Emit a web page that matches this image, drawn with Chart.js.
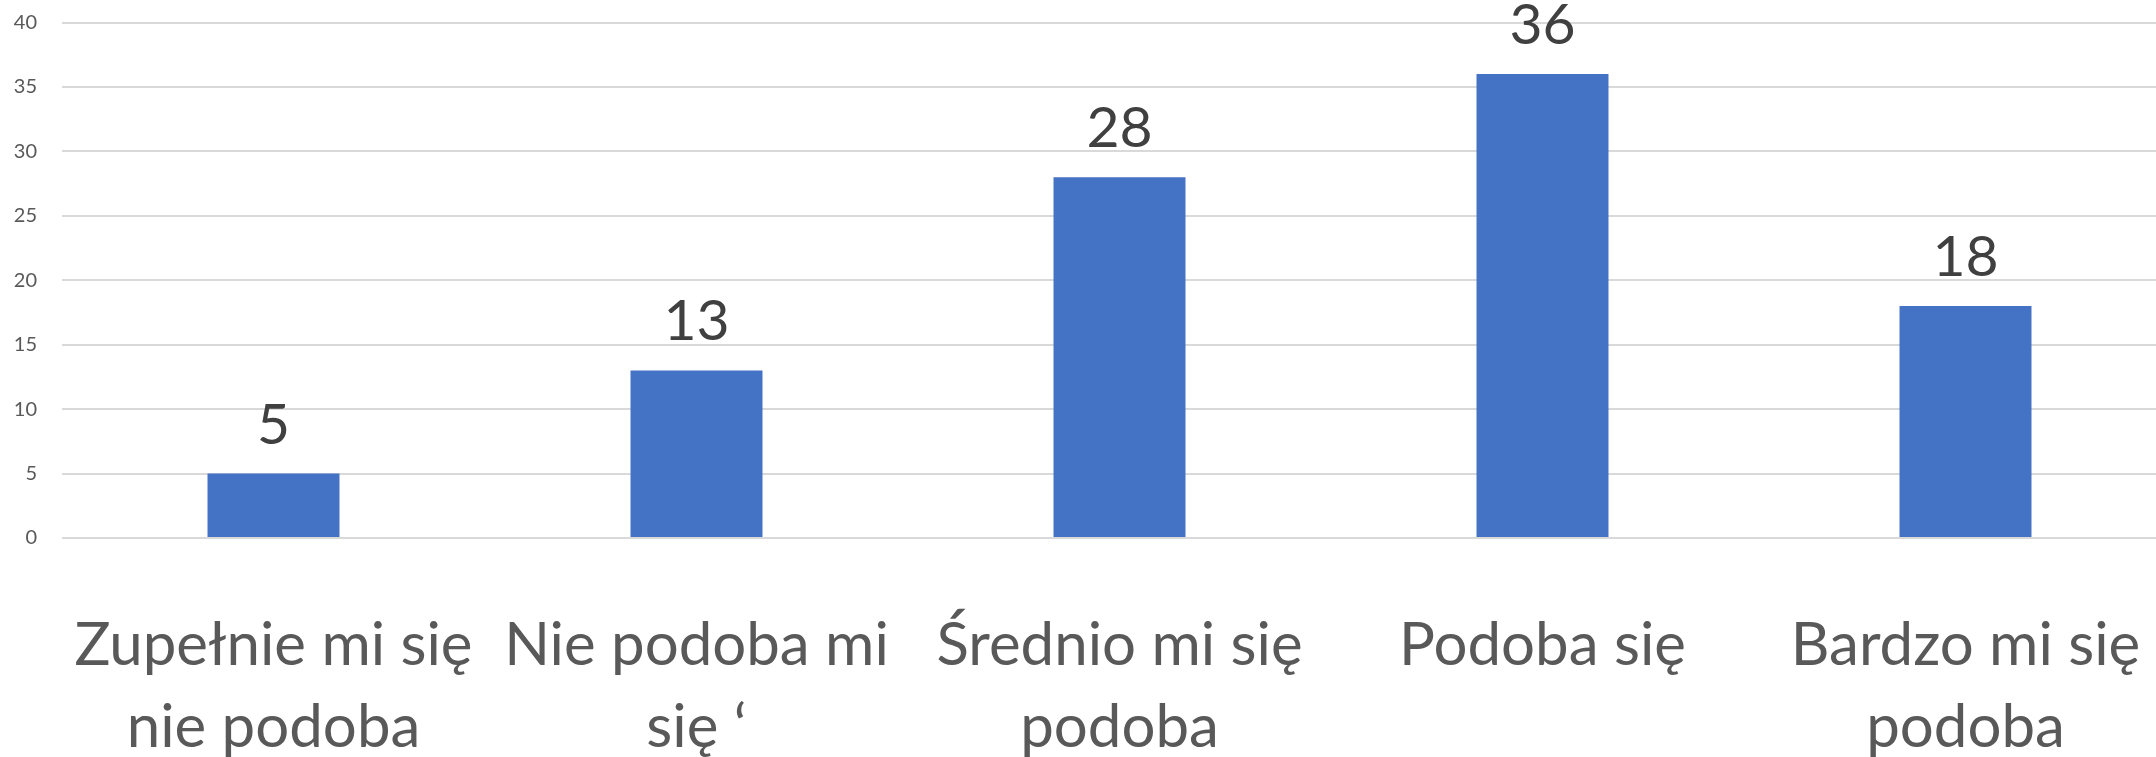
<!DOCTYPE html>
<html>
<head>
<meta charset="utf-8">
<script src="https://cdn.jsdelivr.net/npm/chart.js@4/dist/chart.umd.min.js"></script>
<style>
  html, body { margin: 0; padding: 0; background: #ffffff; overflow: hidden; }
  #wrap { position: relative; width: 2177px; height: 757px; }
</style>
</head>
<body>
<div id="wrap"><canvas id="c"></canvas></div>
<script>
const categories = [
  ["Zupełnie mi się", "nie podoba"],
  ["Nie podoba mi", "się ‘"],
  ["Średnio mi się", "podoba"],
  ["Podoba się"],
  ["Bardzo mi się", "podoba"]
];
const values = [5, 13, 28, 36, 18];
const yTicks = [0, 5, 10, 15, 20, 25, 30, 35, 40];

const FONT = "Lato, 'Open Sans', sans-serif";

const valueLabels = {
  id: 'valueLabels',
  afterDatasetsDraw(chart) {
    const ctx = chart.ctx;
    const meta = chart.getDatasetMeta(0);
    ctx.save();
    ctx.font = "57px " + FONT;
    ctx.fillStyle = "#404040";
    ctx.textAlign = "center";
    ctx.textBaseline = "alphabetic";
    meta.data.forEach((bar, i) => {
      ctx.fillText(String(chart.data.datasets[0].data[i]), bar.x, bar.y - 30);
    });
    ctx.restore();
  }
};

new Chart(document.getElementById('c'), {
  type: 'bar',
  data: {
    labels: categories,
    datasets: [{
      data: values,
      backgroundColor: '#4472C4',
      borderWidth: 0,
      barPercentage: 1,
      categoryPercentage: 0.312
    }]
  },
  options: {
    responsive: true,
    maintainAspectRatio: false,
    animation: false,
    layout: { padding: { top: 22.5, right: 0, bottom: 0, left: 0 } },
    plugins: {
      legend: { display: false },
      tooltip: { enabled: false },
      title: { display: false }
    },
    scales: {
      x: {
        offset: true,
        grid: { display: false, drawTicks: false },
        border: { display: false },
        ticks: {
          autoSkip: false,
          maxRotation: 0,
          minRotation: 0,
          padding: 67,
          color: '#595959',
          font: { family: FONT, size: 60, lineHeight: 1.367 }
        },
        afterFit(scale) {
          scale.height = 219;
          scale.paddingLeft = 0;
          scale.paddingRight = 0;
        }
      },
      y: {
        min: 0,
        max: 40,
        afterBuildTicks(scale) { scale.ticks = yTicks.map(v => ({ value: v })); },
        grid: { color: '#d9d9d9', lineWidth: 2, drawTicks: false },
        border: { display: false },
        ticks: {
          padding: 25,
          color: '#595959',
          font: { family: FONT, size: 20 }
        },
        afterFit(scale) {
          scale.width = 62;
          scale.paddingTop = 0;
          scale.paddingBottom = 0;
        }
      }
    }
  },
  plugins: [valueLabels]
});
</script>
</body>
</html>
